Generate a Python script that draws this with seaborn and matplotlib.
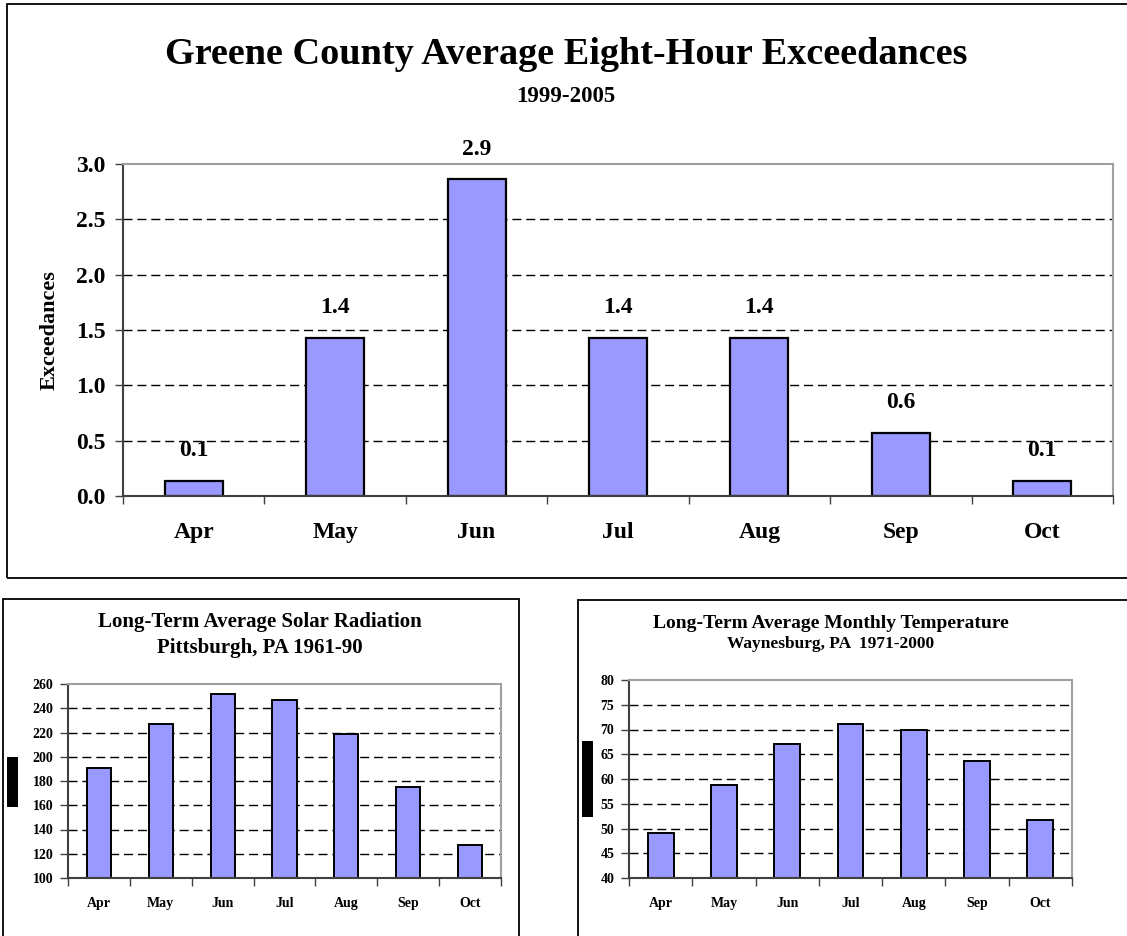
import matplotlib
matplotlib.use("Agg")
import matplotlib.pyplot as plt
import seaborn as sns
import pandas as pd
from matplotlib.patches import Rectangle

# data
months = ["Apr", "May", "Jun", "Jul", "Aug", "Sep", "Oct"]
exceedances = [0.14, 1.43, 2.86, 1.43, 1.43, 0.57, 0.14]
solar = [191, 227, 252, 247, 219, 175, 127]
temperature = [49.0, 58.8, 67.1, 71.2, 70.0, 63.6, 51.8]

sns.set_theme(style="white")
plt.rcParams["font.family"] = ["Liberation Serif", "DejaVu Serif"]
plt.rcParams["font.weight"] = "bold"
plt.rcParams["text.color"] = "black"
plt.rcParams["axes.labelcolor"] = "black"
plt.rcParams["xtick.color"] = "black"
plt.rcParams["ytick.color"] = "black"

BAR = "#9999FF"

fig = plt.figure(figsize=(11.27, 9.36), dpi=100)

# outer frames around each chart
for (x0, y0, w, h) in [(7, 4, 1140, 574), (3, 599, 516, 360), (578, 600, 560, 360)]:
    fig.add_artist(Rectangle((x0 / 1127, 1 - (y0 + h) / 936), w / 1127, h / 936,
                             transform=fig.transFigure, fill=False,
                             edgecolor="black", lw=1.3, zorder=0))

# redacted axis titles in the small charts
for (x0, y0, w, h) in [(7, 757, 11, 50), (582, 741, 11, 76)]:
    fig.add_artist(Rectangle((x0 / 1127, 1 - (y0 + h) / 936), w / 1127, h / 936,
                             transform=fig.transFigure, facecolor="black",
                             edgecolor="none", zorder=5))


def style_axis(ax, ymin, ymax, step, tick_size, fmt, xpad, ypad):
    ax.set_ylim(ymin, ymax)
    ax.set_xlim(-0.5, 6.5)
    ticks = [ymin + i * step for i in range(int(round((ymax - ymin) / step)) + 1)]
    ax.set_yticks(ticks)
    ax.set_yticklabels([fmt % t for t in ticks], fontsize=tick_size, fontweight="bold")
    ax.set_xticks(range(7))
    ax.set_xticklabels(months, fontsize=tick_size, fontweight="bold")
    ax.set_xticks([i - 0.5 for i in range(8)], minor=True)
    ax.tick_params(axis="x", which="major", length=0, pad=xpad, labelcolor="black")
    ax.tick_params(axis="x", which="minor", length=5.5, width=1, color="#404040",
                   direction="out", bottom=True)
    ax.tick_params(axis="y", length=5.5, width=1, color="#404040", direction="out",
                   left=True, pad=ypad, labelcolor="black")
    for t in ticks[1:-1]:
        ax.axhline(t, color="black", lw=1, ls=(0, (6.5, 3.5)), zorder=0.5)
    ax.spines["left"].set_color("#404040")
    ax.spines["bottom"].set_color("#404040")
    ax.spines["top"].set_color("#a0a0a0")
    ax.spines["right"].set_color("#a0a0a0")
    for s in ax.spines.values():
        s.set_linewidth(1.5)
    ax.set_xlabel("")
    ax.set_ylabel("")


# top chart
ax1 = fig.add_axes([123 / 1127, 1 - 496 / 936, 990 / 1127, 332 / 936])
df1 = pd.DataFrame({"month": months, "value": exceedances})
sns.barplot(data=df1, x="month", y="value", ax=ax1, color=BAR, saturation=1,
            edgecolor="black", linewidth=1.6, width=0.41, zorder=2)
style_axis(ax1, 0.0, 3.0, 0.5, 17, "%.1f", 19, 7)
ax1.bar_label(ax1.containers[0], fmt="%.1f", padding=14, fontsize=17, fontweight="bold")
ax1.set_ylabel("Exceedances", fontsize=16, fontweight="bold", labelpad=12)
fig.text(566 / 1127, 1 - 55 / 936, "Greene County Average Eight-Hour Exceedances",
         ha="center", va="center", fontsize=27.5, fontweight="bold")
fig.text(566 / 1127, 1 - 96 / 936, "1999-2005", ha="center", va="center",
         fontsize=16.5, fontweight="bold")

# bottom left chart
ax2 = fig.add_axes([68 / 1127, 1 - 878 / 936, 433 / 1127, 194 / 936])
df2 = pd.DataFrame({"month": months, "value": solar})
sns.barplot(data=df2, x="month", y="value", ax=ax2, color=BAR, saturation=1,
            edgecolor="black", linewidth=1.4, width=0.39, zorder=2)
style_axis(ax2, 100, 260, 20, 10, "%d", 14, 5)
fig.text(260 / 1127, 1 - 622 / 936, "Long-Term Average Solar Radiation",
         ha="center", va="center", fontsize=15, fontweight="bold")
fig.text(260 / 1127, 1 - 648 / 936, "Pittsburgh, PA 1961-90",
         ha="center", va="center", fontsize=15, fontweight="bold")

# bottom right chart
ax3 = fig.add_axes([629 / 1127, 1 - 878 / 936, 443 / 1127, 198 / 936])
df3 = pd.DataFrame({"month": months, "value": temperature})
sns.barplot(data=df3, x="month", y="value", ax=ax3, color=BAR, saturation=1,
            edgecolor="black", linewidth=1.4, width=0.41, zorder=2)
style_axis(ax3, 40, 80, 5, 10, "%d", 14, 5)
fig.text(831 / 1127, 1 - 623 / 936, "Long-Term Average Monthly Temperature",
         ha="center", va="center", fontsize=14, fontweight="bold")
fig.text(831 / 1127, 1 - 644 / 936, "Waynesburg, PA  1971-2000",
         ha="center", va="center", fontsize=12.5, fontweight="bold")

fig.savefig("out.png", dpi=100, facecolor="white")
